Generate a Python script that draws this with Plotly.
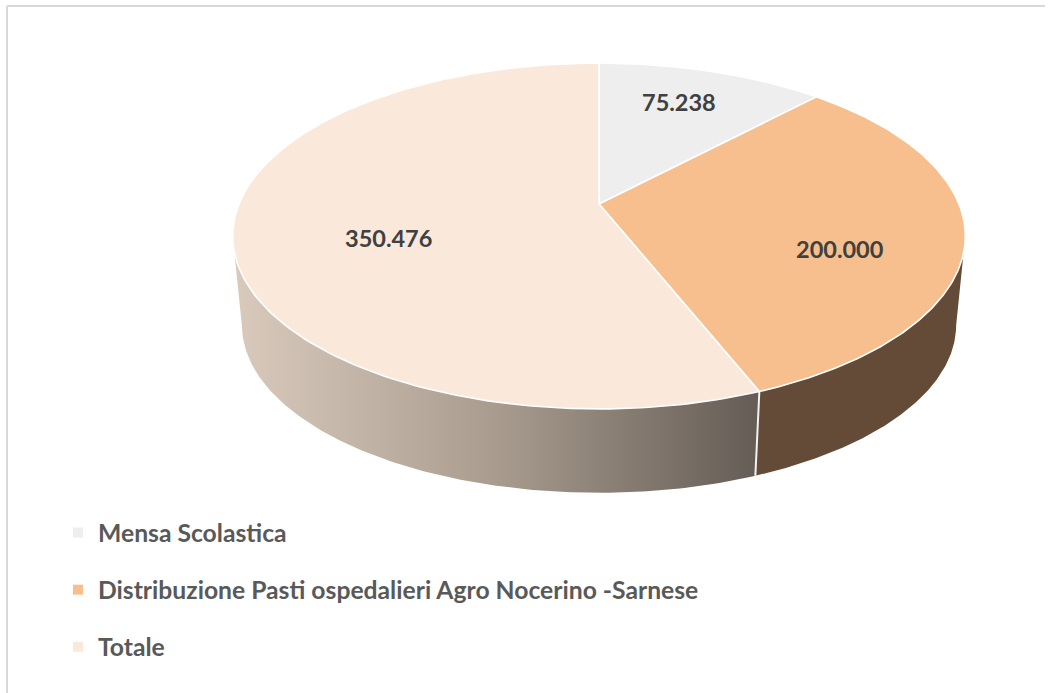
import numpy as np
import plotly.graph_objects as go

# ---- data ----
categories = ["Mensa Scolastica", "Distribuzione Pasti ospedalieri Agro Nocerino -Sarnese", "Totale"]
values = [75238, 200000, 350476]
value_labels = ["75.238", "200.000", "350.476"]

# ---- style ----
top_colors = ["#EEEEEE", "#F6BF8D", "#FAE9DB"]
TEXT = "#404040"
LEGEND_TEXT = "#595959"
FONT = "Lato"

W, H = 1051, 693
# perspective disc geometry, in axis units (the axis maps 1:1 to the page)
CX = 599
TOP = dict(cy=204, a=360, b=167, k=0.185)
BOT = dict(cy=294, a=351, b=162, k=0.185)
label_xy = [(679, 102), (840, 249), (388, 238)]


def project(theta_deg, disc):
    t = np.radians(theta_deg)
    d = 1 + disc["k"] * np.cos(t)
    return CX + disc["a"] * np.sin(t) / d, disc["cy"] - disc["b"] * np.cos(t) / d


edges = np.concatenate([[0], np.cumsum(values)]) / sum(values) * 360.0

fig = go.Figure()

# side walls: only the front-facing part, between the two silhouette angles
sil = np.degrees(np.arccos(-TOP["k"]))
wall_ranges = [(sil, edges[2]), (edges[2], 360 - sil)]
wall_fill = [
    dict(fillcolor="#634B38"),
    dict(fillgradient=dict(type="horizontal",
                           colorscale=[[0, "#D9CABC"], [0.5, "#A99C8F"], [1, "#645C55"]])),
]
for (a0, a1), fill in zip(wall_ranges, wall_fill):
    th = np.linspace(a0, a1, 160)
    xt, yt = project(th, TOP)
    xb, yb = project(th[::-1], BOT)
    fig.add_trace(go.Scatter(x=np.r_[xt, xb, xt[0]], y=np.r_[yt, yb, yt[0]], mode="lines",
                             fill="toself", line=dict(width=0), hoverinfo="skip",
                             showlegend=False, **fill))

# white seam between the two walls
sx0, sy0 = project(edges[2], TOP)
sx1, sy1 = project(edges[2], BOT)
fig.add_trace(go.Scatter(x=[float(sx0), float(sx1)], y=[float(sy0), float(sy1)], mode="lines",
                         line=dict(color="#F2F2F2", width=2), hoverinfo="skip", showlegend=False))

# top surface
for i, c in enumerate(top_colors):
    th = np.linspace(edges[i], edges[i + 1], 200)
    x, y = project(th, TOP)
    fig.add_trace(go.Scatter(x=np.r_[CX, x, CX], y=np.r_[TOP["cy"], y, TOP["cy"]], mode="lines",
                             fill="toself", fillcolor=c, line=dict(color="white", width=1.6),
                             hoverinfo="skip", showlegend=False))

# legend entries
for i, (name, c) in enumerate(zip(categories, top_colors)):
    fig.add_trace(go.Scatter(x=[None], y=[None], mode="markers", name=name,
                             legendgroup=f"g{i}",
                             marker=dict(symbol="square", size=10, color=c)))

for (lx, ly), txt in zip(label_xy, value_labels):
    fig.add_annotation(x=lx, y=ly, text=f"<b>{txt}</b>", showarrow=False,
                       font=dict(family=FONT, size=23.5, color=TEXT))

fig.update_layout(
    width=W, height=H, autosize=False,
    margin=dict(l=0, r=0, t=0, b=0),
    paper_bgcolor="white", plot_bgcolor="white",
    font=dict(family=FONT),
    xaxis=dict(range=[0, W], visible=False, fixedrange=True),
    yaxis=dict(range=[H, 0], visible=False, fixedrange=True),
    legend=dict(x=58 / W, y=1 - 510 / H, xanchor="left", yanchor="top", tracegroupgap=22,
                font=dict(family=FONT, size=24.7, color=LEGEND_TEXT, weight="bold"),
                bgcolor="rgba(0,0,0,0)"),
    shapes=[
        dict(type="line", xref="x", yref="y", x0=7, x1=1045, y0=6, y1=6,
             line=dict(color="#D9D9D9", width=2)),
        dict(type="line", xref="x", yref="y", x0=7, x1=7, y0=6, y1=693,
             line=dict(color="#D9D9D9", width=2)),
    ],
)
fig.write_html("out.html", config={"displayModeBar": False},
               post_script="document.body.style.margin='0';document.documentElement.style.overflow='hidden';")
